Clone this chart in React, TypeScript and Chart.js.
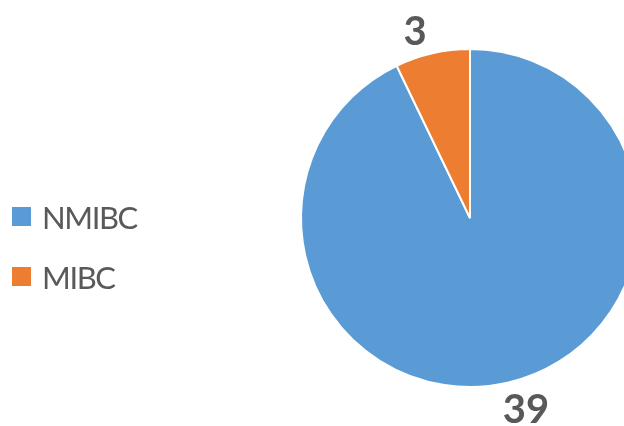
import React, { useEffect, useRef } from "react";
import { Chart, registerables } from "chart.js";

Chart.register(...registerables);

const categories: string[] = ["NMIBC", "MIBC"];
const values: number[] = [39, 3];
const colors: string[] = ["#5B9BD5", "#ED7D31"];

const outsideLabels = {
  id: "outsideLabels",
  afterDatasetsDraw(chart: any) {
    const ctx = chart.ctx;
    const meta = chart.getDatasetMeta(0);
    ctx.save();
    ctx.font = "bold 40px Lato";
    ctx.fillStyle = "#595959";
    ctx.textAlign = "center";
    ctx.textBaseline = "alphabetic";
    const angleShift = (-3.5 * Math.PI) / 180;
    meta.data.forEach((arc: any, i: number) => {
      const p = arc.getProps(["x", "y", "startAngle", "endAngle", "outerRadius"], true);
      const mid = (p.startAngle + p.endAngle) / 2 + angleShift;
      const text = String(values[i]);
      const m = ctx.measureText(text);
      const w = m.width;
      const asc = m.actualBoundingBoxAscent;
      const desc = m.actualBoundingBoxDescent;
      const h = asc + desc;
      const dx = Math.cos(mid);
      const dy = Math.sin(mid);
      const ext = Math.abs(dx) * (w / 2) + Math.abs(dy) * (h / 2);
      const d = p.outerRadius + 9 + ext;
      const cx = p.x + dx * d;
      const cy = p.y + dy * d;
      ctx.fillText(text, cx, cy + (asc - desc) / 2);
    });
    ctx.restore();
  },
};

export default function App() {
  const ref = useRef<HTMLCanvasElement>(null);
  useEffect(() => {
    document.body.style.margin = "0";
    document.body.style.overflow = "hidden";
    const chart = new Chart(ref.current!, {
      type: "pie",
      data: {
        labels: categories,
        datasets: [
          {
            data: values,
            backgroundColor: colors,
            borderColor: "#ffffff",
            borderWidth: 2,
            hoverOffset: 0,
            offset: 0,
          },
        ],
      },
      options: {
        responsive: false,
        animation: false,
        events: [],
        layout: { padding: { top: 48, bottom: 38, left: 300, right: 60 } },
        plugins: { legend: { display: false }, tooltip: { enabled: false } },
      },
      plugins: [outsideLabels],
    });
    return () => chart.destroy();
  }, []);

  return (
    <div
      style={{
        position: "fixed",
        left: 0,
        top: 0,
        width: 624,
        height: 426,
        overflow: "hidden",
        background: "#ffffff",
      }}
    >
      <canvas ref={ref} width={700} height={426} style={{ display: "block" }} />
      {categories.map((c, i) => (
        <React.Fragment key={c}>
          <span
            style={{
              position: "absolute",
              left: 12,
              top: 207 + 60 * i,
              width: 19,
              height: 19,
              background: colors[i],
            }}
          />
          <span
            style={{
              position: "absolute",
              left: 42,
              top: 202 + 60 * i,
              fontFamily: "Lato",
              fontSize: 31,
              lineHeight: "31px",
              letterSpacing: "-1.4px",
              color: "#595959",
              whiteSpace: "nowrap",
            }}
          >
            {c}
          </span>
        </React.Fragment>
      ))}
    </div>
  );
}
